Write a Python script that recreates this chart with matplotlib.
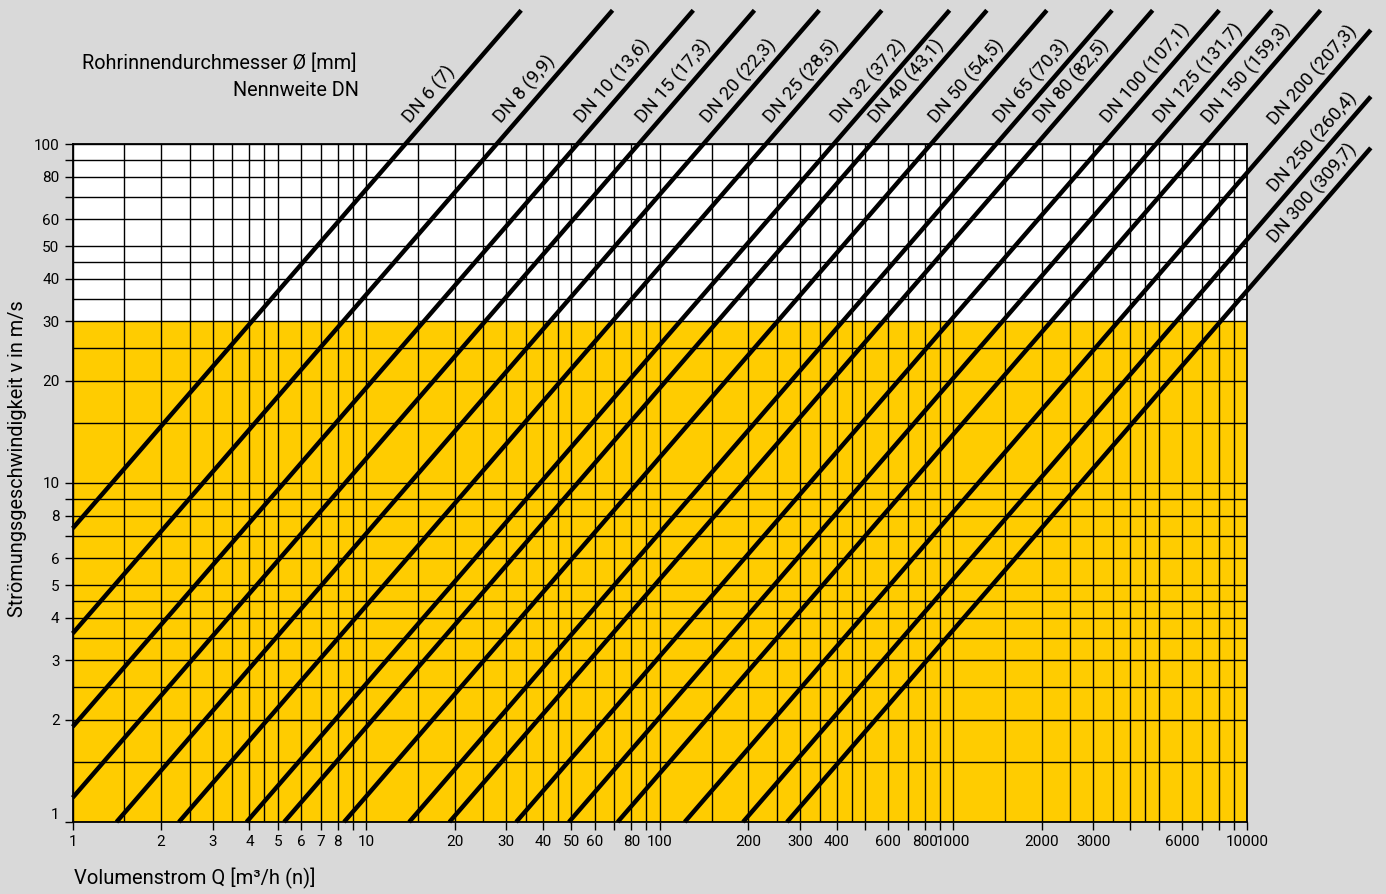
import numpy as np
import matplotlib
matplotlib.use('Agg')
import matplotlib.pyplot as plt
import matplotlib.transforms as mtransforms
from matplotlib.ticker import FixedLocator, FixedFormatter, NullFormatter

plt.rcParams['font.family'] = ['Roboto', 'DejaVu Sans']

# ---------------- data ----------------
nominal = ['DN 6', 'DN 8', 'DN 10', 'DN 15', 'DN 20', 'DN 25', 'DN 32', 'DN 40',
           'DN 50', 'DN 65', 'DN 80', 'DN 100', 'DN 125', 'DN 150', 'DN 200',
           'DN 250', 'DN 300']
inner_d = ['7', '9,9', '13,6', '17,3', '22,3', '28,5', '37,2', '43,1', '54,5',
           '70,3', '82,5', '107,1', '131,7', '159,3', '207,3', '260,4', '309,7']
# line start / end points (Q in m3/h, v in m/s)
q_start = [1, 1, 1, 1, 1.41, 2.3, 3.91, 5.25, 8.4, 14.0, 19.2, 32.4, 49, 71.8,
           121.5, 192, 271]
v_start = [7.35, 3.6, 1.91, 1.18, 1, 1, 1, 1, 1, 1, 1, 1, 1, 1, 1, 1, 1]
q_end = [33.7, 69, 130, 210, 349, 570, 970, 1300, 2080, 3470, 4770, 8040,
         12150, 17800, 26400, 26400, 26400]
v_end = [248, 248, 248, 248, 248, 248, 248, 248, 248, 248, 248, 248, 248, 248,
         217, 138, 97.4]

x_tick_values = [1, 2, 3, 4, 5, 6, 7, 8, 9, 10, 20, 30, 40, 50, 60, 70, 80, 90,
                 100, 200, 300, 400, 500, 600, 700, 800, 900, 1000, 2000, 3000,
                 4000, 5000, 6000, 7000, 8000, 9000, 10000]
x_tick_labels = ['1', '2', '3', '4', '5', '6', '7', '8', '', '10', '20', '30',
                 '40', '50', '60', '', '80', '', '100', '200', '300', '400', '',
                 '600', '', '800', '', '1000', '2000', '3000', '', '', '6000',
                 '', '', '', '10000']
x_grid_extra = [1.5, 2.5, 3.5, 4.5, 15, 25, 35, 45, 150, 250, 350, 450,
                1500, 2500, 3500, 4500]
y_tick_values = [1, 2, 3, 4, 5, 6, 7, 8, 9, 10, 20, 30, 40, 50, 60, 70, 80, 90, 100]
y_tick_labels = ['1', '2', '3', '4', '5', '6', '', '8', '', '10', '20', '30',
                 '40', '50', '60', '', '80', '', '100']
y_grid_extra = [1.5, 2.5, 3.5, 4.5, 15, 25, 35, 45]

yellow_limit = 30

# ---------------- layout ----------------
W, H = 1386, 894
BG = '#d9d9d9'
YELLOW = '#ffcc00'
fig = plt.figure(figsize=(W / 100, H / 100), dpi=100, facecolor=BG)
L, R, T, B = 72.7, 1247, 144, 822
ax = fig.add_axes([L / W, 1 - B / H, (R - L) / W, (B - T) / H])
ax.set_xscale('log')
ax.set_yscale('log')
ax.set_xlim(1, 10000)
ax.set_ylim(1, 100)
ax.set_facecolor('white')
ax.axhspan(1, yellow_limit, color=YELLOW, zorder=0, lw=0)

ax.xaxis.set_major_locator(FixedLocator(x_tick_values))
ax.xaxis.set_major_formatter(FixedFormatter(x_tick_labels))
ax.xaxis.set_minor_locator(FixedLocator(x_grid_extra))
ax.xaxis.set_minor_formatter(NullFormatter())
ax.yaxis.set_major_locator(FixedLocator(y_tick_values))
ax.yaxis.set_major_formatter(FixedFormatter(y_tick_labels))
ax.yaxis.set_minor_locator(FixedLocator(y_grid_extra))
ax.yaxis.set_minor_formatter(NullFormatter())

ax.tick_params(which='major', direction='out', length=5.5, width=1.0,
               color='black', labelsize=11, pad=4)
ax.tick_params(which='minor', length=0)
ax.grid(True, which='both', color='black', lw=1.0, zorder=1)
ax.set_axisbelow(True)
for s in ax.spines.values():
    s.set_color('black')
    s.set_linewidth(1.3)

# y label "1" sits slightly above its tick
ax.yaxis.get_major_ticks()[0].label1.set_verticalalignment('bottom')

# ---------------- lines ----------------
LABEL_V = 110
LABEL_Q = 13200
for i in range(len(nominal)):
    ax.plot([q_start[i], q_end[i]], [v_start[i], v_end[i]], color='black',
            lw=3.2, clip_on=False, solid_capstyle='butt', zorder=3)
    # anchor on the line (log-space) where v = LABEL_V or Q = LABEL_Q
    lq0, lq1 = np.log10(q_start[i]), np.log10(q_end[i])
    lv0, lv1 = np.log10(v_start[i]), np.log10(v_end[i])
    t_v = (np.log10(LABEL_V) - lv0) / (lv1 - lv0)
    t_q = (np.log10(LABEL_Q) - lq0) / (lq1 - lq0)
    t = min(t_v, t_q)
    qa = 10 ** (lq0 + t * (lq1 - lq0))
    va_ = 10 ** (lv0 + t * (lv1 - lv0))
    p0 = ax.transData.transform((q_start[i], v_start[i]))
    p1 = ax.transData.transform((q_end[i], v_end[i]))
    ang = np.arctan2(p1[1] - p0[1], p1[0] - p0[0])
    off = 9.0
    tr = mtransforms.offset_copy(ax.transData, fig=fig,
                                 x=-np.sin(ang) * off, y=np.cos(ang) * off,
                                 units='dots')
    ax.text(qa, va_, f'{nominal[i]} ({inner_d[i]})', transform=tr,
            rotation=np.degrees(ang), rotation_mode='anchor',
            ha='left', va='baseline', fontsize=13.5, clip_on=False, zorder=4)

# ---------------- texts ----------------
fig.text(356 / W, 1 - 63 / H, 'Rohrinnendurchmesser Ø [mm]', ha='right',
         va='center', fontsize=14.3)
fig.text(359 / W, 1 - 91 / H, 'Nennweite DN', ha='right', va='center',
         fontsize=14.3)
fig.text(18 / W, 1 - 459 / H, 'Strömungsgeschwindigkeit v in m/s', rotation=90,
         ha='center', va='center', fontsize=14.3)
fig.text(74 / W, 1 - 878 / H, 'Volumenstrom Q [m³/h (n)]', ha='left',
         va='center', fontsize=14.5)

fig.savefig('out.png', dpi=100, facecolor=BG)
